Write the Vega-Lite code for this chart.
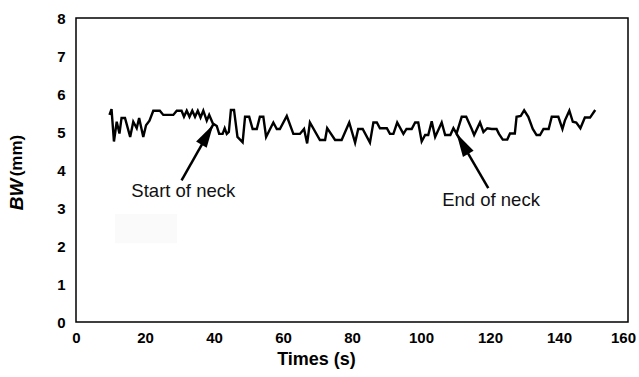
{
  "$schema": "https://vega.github.io/schema/vega-lite/v6.json",
  "width": 552,
  "height": 304,
  "autosize": {"type": "none"},
  "padding": {"left": 76, "top": 18, "right": 11, "bottom": 55},
  "background": "white",
  "config": {
    "view": {"stroke": "#000", "strokeWidth": 1.5},
    "font": "Liberation Sans",
    "axis": {
      "labelFont": "Liberation Sans",
      "labelFontWeight": "bold",
      "labelFontSize": 15,
      "labelColor": "#000",
      "titleFont": "Liberation Sans",
      "titleFontWeight": "bold",
      "titleFontSize": 18,
      "titleColor": "#000",
      "grid": false,
      "domain": false,
      "ticks": false
    }
  },
  "datasets": {
    "bw": [
      {"t": 9.7, "v": 5.45}, {"t": 10.3, "v": 5.6}, {"t": 11.0, "v": 4.75}, {"t": 11.8, "v": 5.27},
      {"t": 12.6, "v": 4.96}, {"t": 13.2, "v": 5.37}, {"t": 14.2, "v": 5.37}, {"t": 15.7, "v": 4.87},
      {"t": 16.6, "v": 5.27}, {"t": 17.6, "v": 5.1}, {"t": 18.3, "v": 5.37}, {"t": 19.5, "v": 4.87},
      {"t": 20.3, "v": 5.18}, {"t": 21.3, "v": 5.3}, {"t": 22.4, "v": 5.56}, {"t": 24.3, "v": 5.56},
      {"t": 25.3, "v": 5.45}, {"t": 28.2, "v": 5.45}, {"t": 29.2, "v": 5.56}, {"t": 30.6, "v": 5.56},
      {"t": 31.3, "v": 5.4}, {"t": 32.1, "v": 5.56}, {"t": 32.9, "v": 5.4}, {"t": 33.7, "v": 5.56},
      {"t": 34.5, "v": 5.4}, {"t": 35.3, "v": 5.56}, {"t": 36.1, "v": 5.38}, {"t": 36.9, "v": 5.56},
      {"t": 37.9, "v": 5.3}, {"t": 38.6, "v": 5.45}, {"t": 39.7, "v": 5.22}, {"t": 40.8, "v": 5.16},
      {"t": 41.5, "v": 4.95}, {"t": 42.5, "v": 4.95}, {"t": 43.1, "v": 5.1}, {"t": 43.7, "v": 4.95},
      {"t": 44.3, "v": 5.0}, {"t": 44.9, "v": 5.58}, {"t": 45.8, "v": 5.58}, {"t": 46.8, "v": 4.87},
      {"t": 48.3, "v": 4.73}, {"t": 49.0, "v": 5.4}, {"t": 50.2, "v": 5.4}, {"t": 51.2, "v": 5.08},
      {"t": 52.4, "v": 5.08}, {"t": 53.3, "v": 5.4}, {"t": 54.3, "v": 5.4}, {"t": 55.1, "v": 4.87},
      {"t": 57.2, "v": 5.25}, {"t": 58.2, "v": 5.08}, {"t": 59.1, "v": 5.08}, {"t": 61.1, "v": 5.42},
      {"t": 63.0, "v": 4.95}, {"t": 64.9, "v": 4.95}, {"t": 66.1, "v": 5.08}, {"t": 67.0, "v": 4.7},
      {"t": 67.8, "v": 5.25}, {"t": 70.7, "v": 4.79}, {"t": 72.2, "v": 4.79}, {"t": 72.8, "v": 5.1},
      {"t": 75.1, "v": 4.79}, {"t": 77.0, "v": 4.79}, {"t": 79.2, "v": 5.25}, {"t": 80.9, "v": 4.72},
      {"t": 81.8, "v": 5.08}, {"t": 83.1, "v": 5.08}, {"t": 85.2, "v": 4.72}, {"t": 86.2, "v": 5.25},
      {"t": 87.2, "v": 5.25}, {"t": 88.1, "v": 5.1}, {"t": 90.1, "v": 5.1}, {"t": 91.0, "v": 4.95},
      {"t": 92.0, "v": 4.95}, {"t": 93.1, "v": 5.25}, {"t": 94.9, "v": 4.95}, {"t": 95.8, "v": 5.08},
      {"t": 97.3, "v": 5.08}, {"t": 98.3, "v": 5.25}, {"t": 99.2, "v": 5.25}, {"t": 100.2, "v": 4.75},
      {"t": 101.2, "v": 4.92}, {"t": 102.1, "v": 4.92}, {"t": 103.1, "v": 5.28}, {"t": 104.1, "v": 4.87},
      {"t": 106.0, "v": 5.25}, {"t": 107.0, "v": 4.92}, {"t": 108.5, "v": 4.92}, {"t": 109.4, "v": 5.1},
      {"t": 110.3, "v": 4.96}, {"t": 111.8, "v": 5.4}, {"t": 113.1, "v": 5.4}, {"t": 114.7, "v": 5.08},
      {"t": 115.4, "v": 4.92}, {"t": 117.1, "v": 5.25}, {"t": 118.1, "v": 5.0}, {"t": 119.2, "v": 5.1},
      {"t": 120.5, "v": 5.08}, {"t": 121.9, "v": 5.08}, {"t": 122.6, "v": 4.95}, {"t": 123.7, "v": 4.8},
      {"t": 125.0, "v": 4.8}, {"t": 125.8, "v": 4.96}, {"t": 127.2, "v": 4.96}, {"t": 127.7, "v": 5.4},
      {"t": 128.9, "v": 5.42}, {"t": 129.9, "v": 5.57}, {"t": 131.1, "v": 5.4}, {"t": 132.4, "v": 5.08},
      {"t": 133.5, "v": 4.92}, {"t": 134.5, "v": 4.92}, {"t": 135.5, "v": 5.08}, {"t": 137.0, "v": 5.08},
      {"t": 137.9, "v": 5.4}, {"t": 139.8, "v": 5.4}, {"t": 141.0, "v": 5.08}, {"t": 141.7, "v": 5.3},
      {"t": 143.0, "v": 5.56}, {"t": 144.0, "v": 5.27}, {"t": 145.0, "v": 5.25}, {"t": 146.2, "v": 5.1},
      {"t": 147.5, "v": 5.38}, {"t": 149.0, "v": 5.38}, {"t": 150.5, "v": 5.58}
    ],
    "arrows": [
      {"label": "Start of neck", "tail_t": 30.6, "tail_v": 3.73, "tip_t": 39.8, "tip_v": 5.2, "text_t": 31.1, "text_v": 3.45},
      {"label": "End of neck", "tail_t": 119.5, "tail_v": 3.52, "tip_t": 110.3, "tip_v": 4.96, "text_t": 120.3, "text_v": 3.2}
    ],
    "patch": [{"t0": 11.3, "t1": 29.3, "v0": 2.07, "v1": 2.84}],
    "unit": [{"label": "(mm)"}]
  },
  "layer": [
    {
      "data": {"name": "bw"},
      "mark": {"type": "line", "color": "#000", "strokeWidth": 2.4, "strokeJoin": "miter"},
      "encoding": {
        "x": {"field": "t", "type": "quantitative", "scale": {"domain": [0, 160], "nice": false, "zero": false},
              "axis": {"values": [0, 20, 40, 60, 80, 100, 120, 140, 160], "title": "Times (s)", "titleX": 240, "titleY": 28, "labelFlush": false, "labelOffset": {"condition": {"test": "datum.value == 160", "value": -5}, "value": 0}, "labelPadding": 8}},
        "y": {"field": "v", "type": "quantitative", "scale": {"domain": [0, 8], "nice": false},
              "axis": {"values": [0, 1, 2, 3, 4, 5, 6, 7, 8], "title": "BW", "titleFontSize": 19, "titleFontStyle": "italic", "titleX": -50, "titleY": 176, "labelPadding": 11}}
      }
    },
    {
      "data": {"name": "patch"},
      "mark": {"type": "rect", "fill": "#fafafa"},
      "encoding": {
        "x": {"field": "t0", "type": "quantitative",
              "axis": {"values": [0, 20, 40, 60, 80, 100, 120, 140, 160], "title": "Times (s)", "titleX": 240, "titleY": 28, "labelFlush": false, "labelOffset": {"condition": {"test": "datum.value == 160", "value": -5}, "value": 0}, "labelPadding": 8}},
        "x2": {"field": "t1"},
        "y": {"field": "v0", "type": "quantitative",
              "axis": {"values": [0, 1, 2, 3, 4, 5, 6, 7, 8], "title": "BW", "titleFontSize": 19, "titleFontStyle": "italic", "titleX": -50, "titleY": 176, "labelPadding": 11}},
        "y2": {"field": "v1"}
      }
    },
    {
      "data": {"name": "arrows"},
      "mark": {"type": "rule", "color": "#000", "strokeWidth": 2.5},
      "encoding": {
        "x": {"field": "tail_t", "type": "quantitative",
              "axis": {"values": [0, 20, 40, 60, 80, 100, 120, 140, 160], "title": "Times (s)", "titleX": 240, "titleY": 28, "labelFlush": false, "labelOffset": {"condition": {"test": "datum.value == 160", "value": -5}, "value": 0}, "labelPadding": 8}},
        "y": {"field": "tail_v", "type": "quantitative",
              "axis": {"values": [0, 1, 2, 3, 4, 5, 6, 7, 8], "title": "BW", "titleFontSize": 19, "titleFontStyle": "italic", "titleX": -50, "titleY": 176, "labelPadding": 11}},
        "x2": {"field": "tip_t"},
        "y2": {"field": "tip_v"}
      }
    },
    {
      "data": {"name": "arrows"},
      "transform": [{"filter": "datum.label === 'Start of neck'"}],
      "mark": {"type": "point", "shape": "M0,0L-0.55,2.1L0.55,2.1Z", "size": 500, "filled": true, "color": "#000", "opacity": 1, "strokeWidth": 0, "angle": 30.5},
      "encoding": {
        "x": {"field": "tip_t", "type": "quantitative",
              "axis": {"values": [0, 20, 40, 60, 80, 100, 120, 140, 160], "title": "Times (s)", "titleX": 240, "titleY": 28, "labelFlush": false, "labelOffset": {"condition": {"test": "datum.value == 160", "value": -5}, "value": 0}, "labelPadding": 8}},
        "y": {"field": "tip_v", "type": "quantitative",
              "axis": {"values": [0, 1, 2, 3, 4, 5, 6, 7, 8], "title": "BW", "titleFontSize": 19, "titleFontStyle": "italic", "titleX": -50, "titleY": 176, "labelPadding": 11}}
      }
    },
    {
      "data": {"name": "arrows"},
      "transform": [{"filter": "datum.label === 'End of neck'"}],
      "mark": {"type": "point", "shape": "M0,0L-0.55,2.1L0.55,2.1Z", "size": 500, "filled": true, "color": "#000", "opacity": 1, "strokeWidth": 0, "angle": -30},
      "encoding": {
        "x": {"field": "tip_t", "type": "quantitative",
              "axis": {"values": [0, 20, 40, 60, 80, 100, 120, 140, 160], "title": "Times (s)", "titleX": 240, "titleY": 28, "labelFlush": false, "labelOffset": {"condition": {"test": "datum.value == 160", "value": -5}, "value": 0}, "labelPadding": 8}},
        "y": {"field": "tip_v", "type": "quantitative",
              "axis": {"values": [0, 1, 2, 3, 4, 5, 6, 7, 8], "title": "BW", "titleFontSize": 19, "titleFontStyle": "italic", "titleX": -50, "titleY": 176, "labelPadding": 11}}
      }
    },
    {
      "data": {"name": "arrows"},
      "mark": {"type": "text", "font": "Liberation Sans", "fontSize": 18.5, "color": "#111", "align": "center", "baseline": "middle"},
      "encoding": {
        "x": {"field": "text_t", "type": "quantitative",
              "axis": {"values": [0, 20, 40, 60, 80, 100, 120, 140, 160], "title": "Times (s)", "titleX": 240, "titleY": 28, "labelFlush": false, "labelOffset": {"condition": {"test": "datum.value == 160", "value": -5}, "value": 0}, "labelPadding": 8}},
        "y": {"field": "text_v", "type": "quantitative",
              "axis": {"values": [0, 1, 2, 3, 4, 5, 6, 7, 8], "title": "BW", "titleFontSize": 19, "titleFontStyle": "italic", "titleX": -50, "titleY": 176, "labelPadding": 11}},
        "text": {"field": "label"}
      }
    },
    {
      "data": {"name": "unit"},
      "mark": {"type": "text", "font": "Liberation Sans", "fontSize": 17, "fontWeight": "bold", "color": "#000", "align": "center", "baseline": "middle", "angle": 270},
      "encoding": {
        "x": {"datum": -17.1, "type": "quantitative",
              "axis": {"values": [0, 20, 40, 60, 80, 100, 120, 140, 160], "title": "Times (s)", "titleX": 240, "titleY": 28, "labelFlush": false, "labelOffset": {"condition": {"test": "datum.value == 160", "value": -5}, "value": 0}, "labelPadding": 8}},
        "y": {"datum": 4.38, "type": "quantitative",
              "axis": {"values": [0, 1, 2, 3, 4, 5, 6, 7, 8], "title": "BW", "titleFontSize": 19, "titleFontStyle": "italic", "titleX": -50, "titleY": 176, "labelPadding": 11}},
        "text": {"field": "label"}
      }
    }
  ]
}
